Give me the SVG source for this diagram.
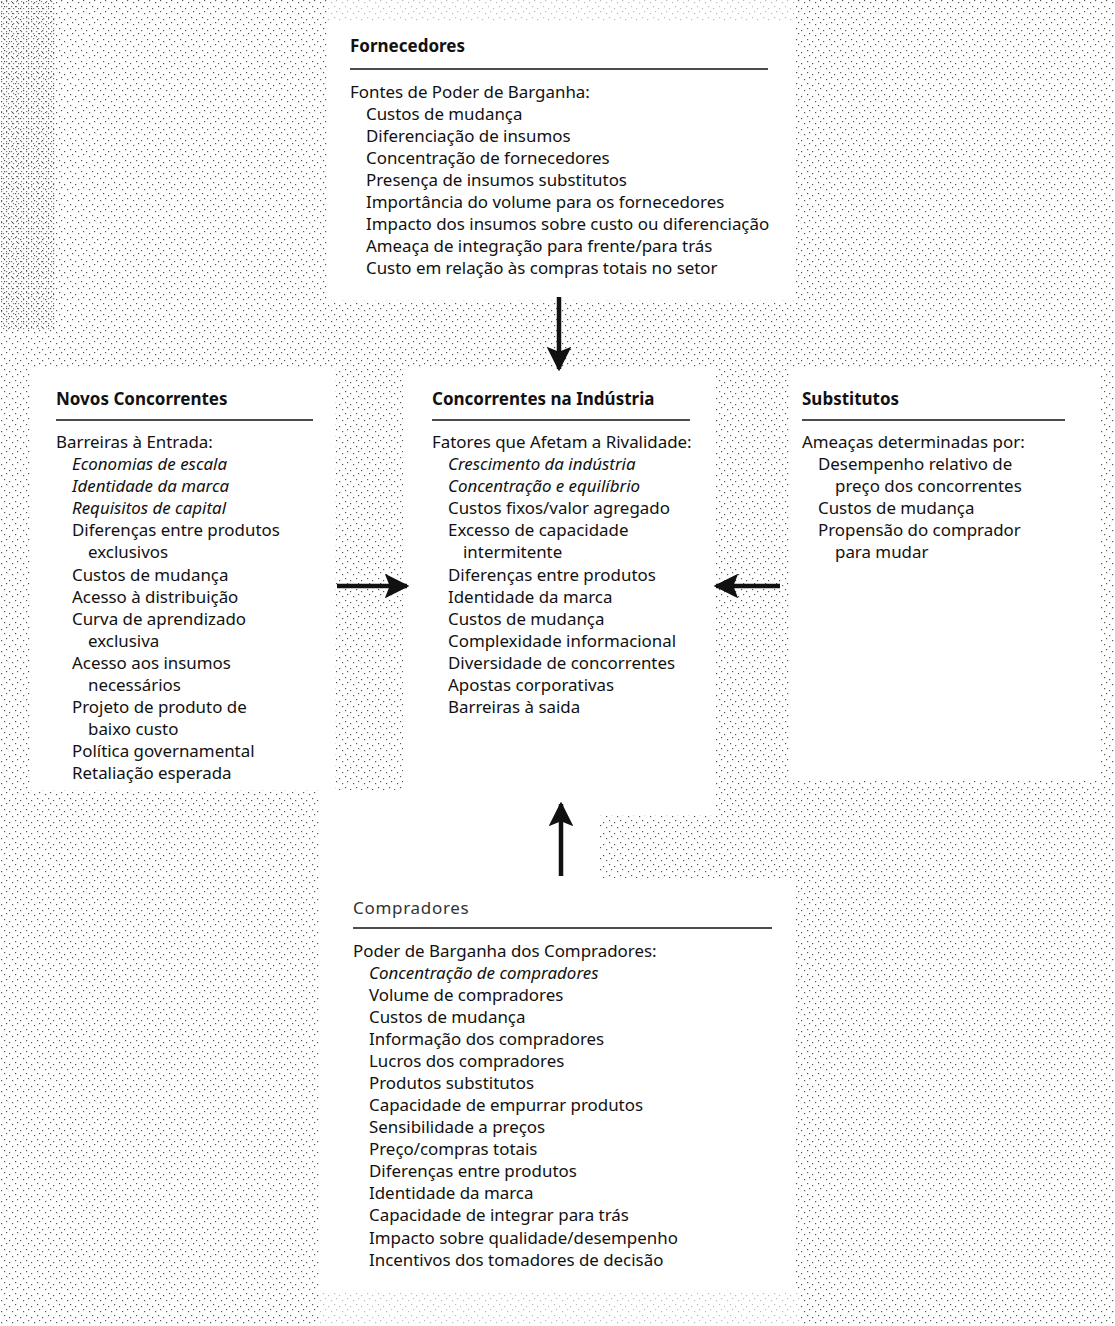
<svg xmlns="http://www.w3.org/2000/svg" width="1115" height="1326" viewBox="0 0 1115 1326">
<style>
text{font-family:"Noto Sans","Open Sans","Liberation Sans",sans-serif;font-size:16.9px;fill:#111}
.t{font-weight:bold;font-size:17px}
.tr{font-size:17px;letter-spacing:0.7px;fill:#333}
.i{font-style:italic}
.rule{stroke:#111;stroke-width:1.5}
.shaft{stroke:#111;stroke-width:4.5}
</style>
<defs>
<pattern id="st" width="11" height="11" patternUnits="userSpaceOnUse">
<rect x="1" y="2" width="1.2" height="1.2" fill="#555"/>
<rect x="6" y="0" width="1.2" height="1.2" fill="#555"/>
<rect x="4" y="6" width="1.2" height="1.2" fill="#555"/>
<rect x="9" y="8" width="1.2" height="1.2" fill="#555"/>
</pattern>
<pattern id="st2" width="5" height="5" patternUnits="userSpaceOnUse">
<rect x="1" y="1" width="1.2" height="1.2" fill="#444"/>
<rect x="3" y="3" width="1.2" height="1.2" fill="#444"/>
</pattern>
<marker id="ah" viewBox="0 0 10 10" refX="9" refY="5" markerWidth="5.5" markerHeight="5.5" orient="auto" markerUnits="strokeWidth">
<path d="M0,0 L10,5 L0,10 L2,5 Z" fill="#111"/>
</marker>
</defs>
<rect width="1115" height="1326" fill="#fff"/>
<g id="background">
<rect width="1115" height="1326" fill="url(#st)"/>
<rect x="0" y="0" width="55" height="330" fill="url(#st2)" opacity="0.7"/>
<rect x="328" y="22" width="467" height="278" fill="#fff"/>
<rect x="328" y="0" width="467" height="22" fill="#fff" opacity="0.6"/>
<rect x="30" y="368" width="305" height="422" fill="#fff"/>
<rect x="403" y="368" width="312" height="422" fill="#fff"/>
<rect x="790" y="368" width="310" height="412" fill="#fff"/>
<rect x="320" y="790" width="280" height="500" fill="#fff"/>
<rect x="600" y="878" width="195" height="412" fill="#fff"/>
<rect x="335" y="790" width="380" height="25" fill="#fff"/>
<rect x="320" y="1290" width="480" height="36" fill="#fff" opacity="0.6"/>
</g>
<g id="connectors">
<line class="shaft" x1="559" y1="297" x2="559" y2="369" marker-end="url(#ah)"/>
<line class="shaft" x1="337" y1="586" x2="407" y2="586" marker-end="url(#ah)"/>
<line class="shaft" x1="780" y1="586" x2="716" y2="586" marker-end="url(#ah)"/>
<line class="shaft" x1="561" y1="876" x2="561" y2="804" marker-end="url(#ah)"/>
</g>
<g id="fornecedores">
<text class="t" x="350" y="52">Fornecedores</text>
<line class="rule" x1="350" y1="69" x2="768" y2="69"/>
<text x="350" y="98">Fontes de Poder de Barganha:</text>
<text x="366" y="120">Custos de mudança</text>
<text x="366" y="142">Diferenciação de insumos</text>
<text x="366" y="164">Concentração de fornecedores</text>
<text x="366" y="186">Presença de insumos substitutos</text>
<text x="366" y="208">Importância do volume para os fornecedores</text>
<text x="366" y="230">Impacto dos insumos sobre custo ou diferenciação</text>
<text x="366" y="252">Ameaça de integração para frente/para trás</text>
<text x="366" y="274">Custo em relação às compras totais no setor</text>
</g>
<g id="novos-concorrentes">
<text class="t" x="56" y="405">Novos Concorrentes</text>
<line class="rule" x1="56" y1="420" x2="313" y2="420"/>
<text x="56" y="448">Barreiras à Entrada:</text>
<text class="i" x="72" y="470">Economias de escala</text>
<text class="i" x="72" y="492">Identidade da marca</text>
<text class="i" x="72" y="514">Requisitos de capital</text>
<text x="72" y="536">Diferenças entre produtos</text>
<text x="88" y="558">exclusivos</text>
<text x="72" y="581">Custos de mudança</text>
<text x="72" y="603">Acesso à distribuição</text>
<text x="72" y="625">Curva de aprendizado</text>
<text x="88" y="647">exclusiva</text>
<text x="72" y="669">Acesso aos insumos</text>
<text x="88" y="691">necessários</text>
<text x="72" y="713">Projeto de produto de</text>
<text x="88" y="735">baixo custo</text>
<text x="72" y="757">Política governamental</text>
<text x="72" y="779">Retaliação esperada</text>
</g>
<g id="concorrentes-industria">
<text class="t" x="432" y="405">Concorrentes na Indústria</text>
<line class="rule" x1="432" y1="420" x2="690" y2="420"/>
<text x="432" y="448">Fatores que Afetam a Rivalidade:</text>
<text class="i" x="448" y="470">Crescimento da indústria</text>
<text class="i" x="448" y="492">Concentração e equilíbrio</text>
<text x="448" y="514">Custos fixos/valor agregado</text>
<text x="448" y="536">Excesso de capacidade</text>
<text x="463" y="558">intermitente</text>
<text x="448" y="581">Diferenças entre produtos</text>
<text x="448" y="603">Identidade da marca</text>
<text x="448" y="625">Custos de mudança</text>
<text x="448" y="647">Complexidade informacional</text>
<text x="448" y="669">Diversidade de concorrentes</text>
<text x="448" y="691">Apostas corporativas</text>
<text x="448" y="713">Barreiras à saida</text>
</g>
<g id="substitutos">
<text class="t" x="802" y="405">Substitutos</text>
<line class="rule" x1="802" y1="420" x2="1065" y2="420"/>
<text x="802" y="448">Ameaças determinadas por:</text>
<text x="818" y="470">Desempenho relativo de</text>
<text x="835" y="492">preço dos concorrentes</text>
<text x="818" y="514">Custos de mudança</text>
<text x="818" y="536">Propensão do comprador</text>
<text x="835" y="558">para mudar</text>
</g>
<g id="compradores">
<text class="tr" x="353" y="914">Compradores</text>
<line class="rule" x1="353" y1="928" x2="772" y2="928"/>
<text x="353" y="957">Poder de Barganha dos Compradores:</text>
<text class="i" x="369" y="979">Concentração de compradores</text>
<text x="369" y="1001">Volume de compradores</text>
<text x="369" y="1023">Custos de mudança</text>
<text x="369" y="1045">Informação dos compradores</text>
<text x="369" y="1067">Lucros dos compradores</text>
<text x="369" y="1089">Produtos substitutos</text>
<text x="369" y="1111">Capacidade de empurrar produtos</text>
<text x="369" y="1133">Sensibilidade a preços</text>
<text x="369" y="1155">Preço/compras totais</text>
<text x="369" y="1177">Diferenças entre produtos</text>
<text x="369" y="1199">Identidade da marca</text>
<text x="369" y="1221">Capacidade de integrar para trás</text>
<text x="369" y="1244">Impacto sobre qualidade/desempenho</text>
<text x="369" y="1266">Incentivos dos tomadores de decisão</text>
</g>
</svg>
